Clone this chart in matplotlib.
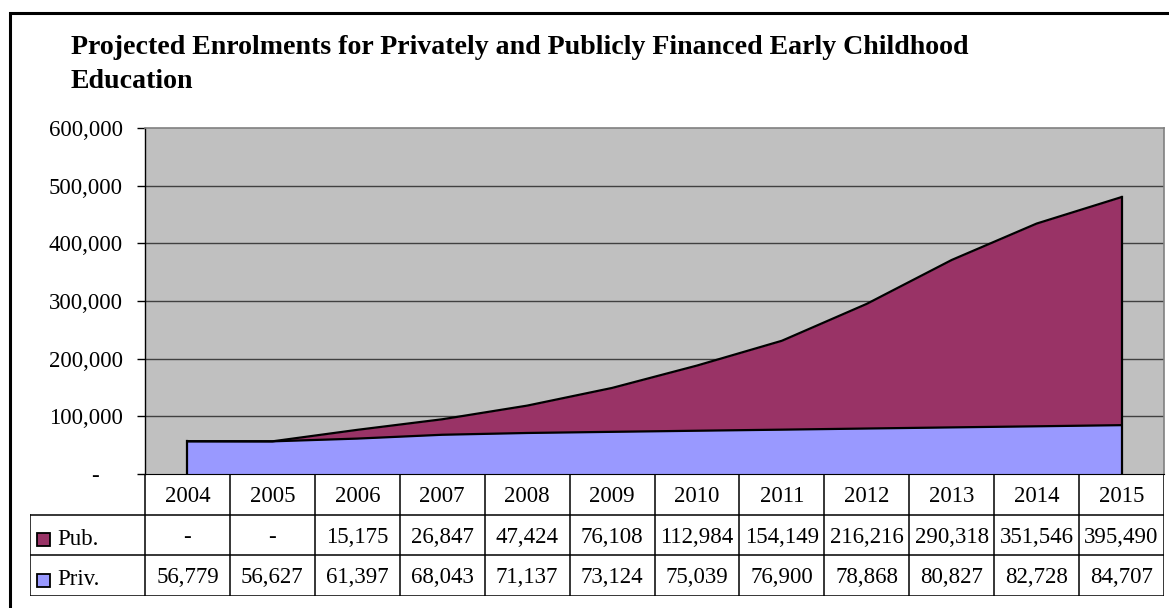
import matplotlib.pyplot as plt
import numpy as np
from matplotlib.patches import Rectangle

plt.rcParams['font.family'] = ['Liberation Serif', 'DejaVu Serif']

years = ['2004', '2005', '2006', '2007', '2008', '2009', '2010', '2011',
         '2012', '2013', '2014', '2015']
pub = [0, 0, 15175, 26847, 47424, 76108, 112984, 154149, 216216, 290318,
       351546, 395490]
priv = [56779, 56627, 61397, 68043, 71137, 73124, 75039, 76900, 78868,
        80827, 82728, 84707]
series = [('Pub.', pub, '#993366'), ('Priv.', priv, '#9999FF')]
yticks = [0, 100000, 200000, 300000, 400000, 500000, 600000]
title = ['Projected Enrolments for Privately and Publicly Financed Early Childhood',
         'Education']

W, H = 1169, 608
FS = 16.5
fig = plt.figure(figsize=(W / 100, H / 100), dpi=100)

# outer chart border (runs off the right/bottom of the image)
fig.patches.append(Rectangle((10 / W, -0.1), 1.2, 1 - 13.5 / H + 0.1,
                             transform=fig.transFigure, fill=False,
                             edgecolor='black', linewidth=2.2))

for k, line in enumerate(title):
    fig.text(71 / W, 1 - (54 + 34 * k) / H, line, fontsize=20.1,
             fontweight='bold', va='baseline', ha='left')

left, right, top, bottom = 145, 1164, 128, 474
ax = fig.add_axes([left / W, 1 - bottom / H, (right - left) / W,
                   (bottom - top) / H])
ax.set_facecolor('#C0C0C0')
x = np.arange(len(years))
p = np.array(priv)
tot = p + np.array(pub)

ax.fill_between(x, 0, p, color='#9999FF', linewidth=0, zorder=2)
ax.fill_between(x, p, tot, color='#993366', linewidth=0, zorder=2)
ax.plot(x, p, color='black', lw=1.6, zorder=3)
ax.plot(x, tot, color='black', lw=1.6, zorder=3)
ax.plot([x[0], x[0]], [0, p[0]], color='black', lw=1.6, zorder=3)
ax.plot([x[-1], x[-1]], [0, tot[-1]], color='black', lw=1.6, zorder=3)

ax.set_xlim(-0.5, len(years) - 0.5)
ax.set_ylim(0, 600000)
ax.set_yticks(yticks)
ax.set_yticklabels(['-    ' if v == 0 else f'{v:,}' for v in yticks],
                   fontsize=FS)
ax.tick_params(axis='y', length=6, width=1, pad=10, color='black')
ax.tick_params(axis='x', length=0, labelbottom=False)
for v in yticks[1:-1]:
    ax.axhline(v, color='#404040', lw=1, zorder=1)
for s in ['left', 'right', 'top']:
    ax.spines[s].set_color('#808080')
    ax.spines[s].set_linewidth(1.2)
ax.spines['bottom'].set_color('black')
ax.spines['left'].set_color('black')
ax.spines['left'].set_linewidth(1)

# data table under the plot
tleft, tbottom = 30, 596
colw = (right - left) / len(years)
rowh = (tbottom - bottom) / 3
lab_w = (left - tleft) / colw
tab = fig.add_axes([tleft / W, 1 - tbottom / H, (right - tleft) / W,
                    (tbottom - bottom) / H])
tab.set_xlim(-0.5 - lab_w, len(years) - 0.5)
tab.set_ylim(3, 0)
tab.axis('off')
x0 = -0.5 - lab_w
xe = len(years) - 0.5
lw = 1.1
tab.plot([-0.5, xe], [0, 0], color='black', lw=lw)
for r in (1, 2, 3):
    tab.plot([x0, xe], [r, r], color='black', lw=lw)
tab.plot([x0, x0], [1, 3], color='black', lw=lw)
for i in range(len(years) + 1):
    tab.plot([i - 0.5, i - 0.5], [0, 3], color='black', lw=lw)
for i, yr in enumerate(years):
    tab.text(i, 0.55, yr, ha='center', va='center', fontsize=FS)
for r, (name, vals, col) in enumerate(series, start=1):
    tab.add_patch(Rectangle((x0 + 7 / colw, r + 0.5 - 2 / rowh),
                            13 / colw, 13 / rowh,
                            facecolor=col, edgecolor='black', lw=1.3))
    tab.text(x0 + 27 / colw, r + 0.6, name, ha='left', va='center',
             fontsize=FS)
    for i, v in enumerate(vals):
        tab.text(i, r + 0.55, '-' if v == 0 else f'{v:,}', ha='center',
                 va='center', fontsize=FS)

fig.savefig('out.png', dpi=100)
